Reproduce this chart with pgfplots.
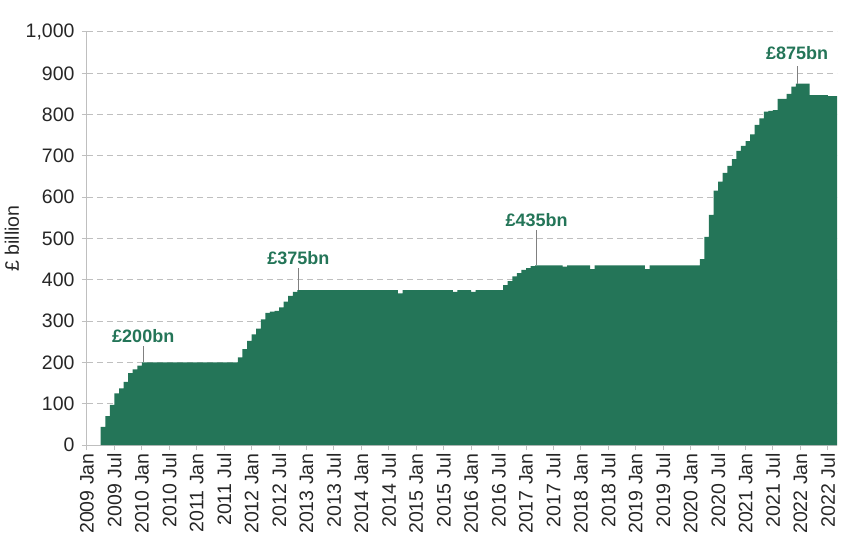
\documentclass[border=0pt]{standalone}
\usepackage{fontspec}
\setmainfont{Liberation Sans}
\usepackage{pgfplots}
\pgfplotsset{compat=1.18}

\definecolor{qegreen}{RGB}{36,117,88}
\definecolor{gridgrey}{RGB}{191,191,191}
\definecolor{txtgrey}{RGB}{38,38,38}

\begin{document}
\begin{tikzpicture}
	\begin{axis}[
	    name=ax,
	    scale only axis,
	    width=750bp, height=413bp,
	    xmin=0, xmax=164,
	    ymin=0, ymax=1000,
	    xtick={0,6,...,162},
	    xticklabels={2009 Jan,2009 Jul,2010 Jan,2010 Jul,2011 Jan,2011 Jul,2012 Jan,2012 Jul,2013 Jan,2013 Jul,2014 Jan,2014 Jul,2015 Jan,2015 Jul,2016 Jan,2016 Jul,2017 Jan,2017 Jul,2018 Jan,2018 Jul,2019 Jan,2019 Jul,2020 Jan,2020 Jul,2021 Jan,2021 Jul,2022 Jan,2022 Jul},
	    ytick={0,100,...,1000},
	    yticklabels={0,100,200,300,400,500,600,700,800,900,{1,000}},
	    x tick label style={rotate=90, anchor=east},
	    y tick label style={xshift=-4bp},
	    tick label style={font=\fontsize{19.5bp}{22bp}\selectfont, text=txtgrey},
	    axis lines*=left,
	    axis line style={gridgrey, line width=1bp},
	    tick style={gridgrey, line width=1bp},
	    tick align=outside,
	    major tick length=5bp,
	    ymajorgrids,
	    grid style={gridgrey, line width=1bp, dash pattern=on 6bp off 4bp},
	    ylabel={£ billion},
	    ylabel style={at={(rel axis cs:0,0.5)}, anchor=center, yshift=75bp,
	        font=\fontsize{19.5bp}{22bp}\selectfont, text=txtgrey},
	]

	% monthly stock, month 0 = 2009 Jan
	\addplot[const plot mark left, fill=qegreen, draw=none]
	    coordinates {(3,44)(4,70)(5,97)(6,125)(7,137)(8,153)(9,174)(10,183)(11,192)(12,200)
	    (13,200)(14,200)(15,200)(16,200)(17,200)(18,200)(19,200)(20,200)(21,200)(22,200)
	    (23,200)(24,200)(25,200)(26,200)(27,200)(28,200)(29,200)(30,200)(31,200)(32,200)
	    (33,212)(34,232)(35,252)(36,268)(37,282)(38,304)(39,320)(40,323)(41,325)(42,333)
	    (43,347)(44,361)(45,371)(46,375)(47,375)(48,375)(49,375)(50,375)(51,375)(52,375)
	    (53,375)(54,375)(55,375)(56,375)(57,375)(58,375)(59,375)(60,375)(61,375)(62,375)
	    (63,375)(64,375)(65,375)(66,375)(67,375)(68,367)(69,375)(70,375)(71,375)(72,375)
	    (73,375)(74,375)(75,375)(76,375)(77,375)(78,375)(79,375)(80,371)(81,375)(82,375)
	    (83,375)(84,371)(85,375)(86,375)(87,375)(88,375)(89,375)(90,375)(91,387)(92,397)
	    (93,408)(94,416)(95,424)(96,428)(97,433)(98,435)(99,435)(100,435)(101,435)(102,435)
	    (103,435)(104,432)(105,435)(106,435)(107,435)(108,435)(109,435)(110,426)(111,435)(112,435)
	    (113,435)(114,435)(115,435)(116,435)(117,435)(118,435)(119,435)(120,435)(121,435)(122,426)
	    (123,435)(124,435)(125,435)(126,435)(127,435)(128,435)(129,435)(130,435)(131,435)(132,435)
	    (133,435)(134,450)(135,504)(136,557)(137,616)(138,638)(139,659)(140,676)(141,692)(142,712)
	    (143,724)(144,736)(145,752)(146,775)(147,791)(148,807)(149,809)(150,811)(151,838)(152,838)
	    (153,850)(154,868)(155,875)(156,875)(157,875)(158,847)(159,847)(160,847)(161,847)(162,845)
	    (163,845)(164,845)} \closedcycle;

	% call-outs
	\draw[gray, line width=0.8bp] (axis cs:12.3,200) -- (axis cs:12.3,240);
	\draw[gray, line width=0.8bp] (axis cs:46.2,375) -- (axis cs:46.2,428);
	\draw[gray, line width=0.8bp] (axis cs:98.3,435) -- (axis cs:98.3,520);
	\draw[gray, line width=0.8bp] (axis cs:155.3,875) -- (axis cs:155.3,918);
	\node[font=\fontsize{18bp}{20bp}\selectfont\bfseries, text=qegreen] at (axis cs:12.3,264) {£200bn};
	\node[font=\fontsize{18bp}{20bp}\selectfont\bfseries, text=qegreen] at (axis cs:46.2,453) {£375bn};
	\node[font=\fontsize{18bp}{20bp}\selectfont\bfseries, text=qegreen] at (axis cs:98.3,545) {£435bn};
	\node[font=\fontsize{18bp}{20bp}\selectfont\bfseries, text=qegreen] at (axis cs:155.3,949) {£875bn};
	\end{axis}
	\pgfresetboundingbox
	\path ([xshift=-87bp,yshift=-104bp]ax.south west) rectangle ([xshift=11bp,yshift=32bp]ax.north east);
\end{tikzpicture}
\end{document}
